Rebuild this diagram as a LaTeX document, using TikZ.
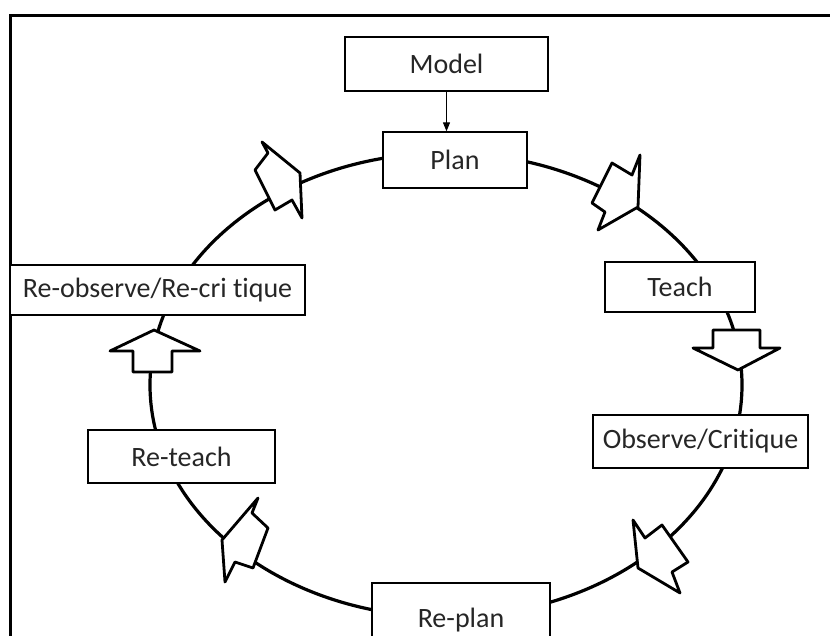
\documentclass[tikz,border=0pt]{standalone}
\usepackage{fontspec}
\setmainfont{Carlito}[Ligatures=NoCommon]
\usetikzlibrary{arrows.meta}
\begin{document}
\begin{tikzpicture}[x=1pt,y=-1pt,
  box/.style={draw, line width=1.3pt, fill=white, inner sep=0pt,
    font=\fontsize{28}{33}\selectfont, text=black!85},
  blk/.style={draw, line width=2.8pt, fill=white, line join=round},
  ring/.style={line width=3.2pt},
  frame/.style={line width=3pt}]
\useasboundingbox (0,0) rectangle (830,636);
\draw[frame] (10,640) -- (10,16) -- (834,16);
\draw[ring] (446,385) ellipse [x radius=296pt, y radius=232pt];
% boxes
\node[box, minimum width=203pt, minimum height=54pt] (model) at (446.5,64) {Model};
\node[box, minimum width=144pt, minimum height=56pt] (plan) at (455,160) {Plan};
\node[box, minimum width=150pt, minimum height=50pt] (teach) at (680,287) {Teach};
\node[box, minimum width=215pt, minimum height=53pt] (obs) at (700.5,441.5) {Observe/Critique};
\node[box, minimum width=178pt, minimum height=74pt] (replan) at (461,620) {Re-plan};
\node[box, minimum width=187pt, minimum height=53pt] (reteach) at (181.5,456.5) {Re-teach};
\node[box, minimum width=295pt, minimum height=50pt] (reobs) at (157.5,290) {Re-observe/Re-cri tique};
\draw[line width=1pt, -{Triangle[length=9pt,width=7pt]}] (model.south) -- (model.south |- plan.north);
% block arrows along the cycle
\draw[blk] (300,173) -- (262,142) -- (268,153) -- (255,170) -- (275,210) -- (292,200) -- (302,218) -- cycle;
\draw[blk] (638,207) -- (640,155) -- (632,175) -- (612,163) -- (592,203) -- (605,212) -- (598,230) -- cycle;
\draw[blk] (738,370) -- (780,348) -- (760,348) -- (760,330) -- (713,330) -- (713,348) -- (693,348) -- cycle;
\draw[blk] (638,568) -- (633,520) -- (645,538) -- (662,525) -- (688,562) -- (672,572) -- (680,593) -- cycle;
\draw[blk] (222,540) -- (258,498) -- (252,513) -- (268,528) -- (253,568) -- (235,562) -- (225,582) -- cycle;
\draw[blk] (154,330) -- (110,351) -- (133,351) -- (133,372) -- (172,372) -- (172,351) -- (200,351) -- cycle;
\end{tikzpicture}
\end{document}
